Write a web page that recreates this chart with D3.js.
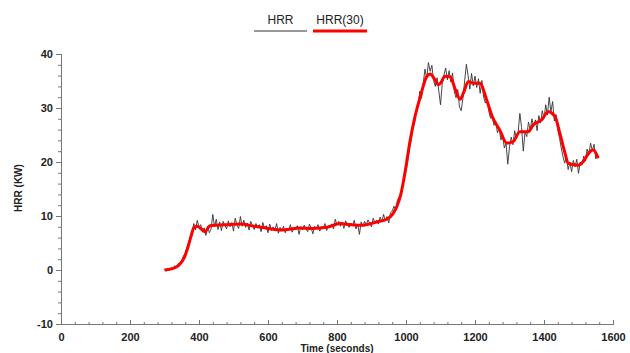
<!DOCTYPE html>
<html>
<head>
<meta charset="utf-8">
<script src="https://cdn.jsdelivr.net/npm/d3@7"></script>
<style>
  body { margin: 0; background: #fff; }
  svg { display: block; font-family: "Liberation Sans", Arial, sans-serif; }
</style>
</head>
<body>
<svg id="chart" width="630" height="353"></svg>
<script>
// Raw HRR samples, 5 s apart starting at 300 s
const hrrStart = 300;
const hrrStep = 5;
const hrrValues = [
  0.1, -0.2, 0.3, 0.0, 0.5, 0.2, 0.8, 0.4, 1.2, 0.9, 1.8, 2.6, 3.1, 4.2, 5.0, 6.3, 7.1,
  8.6, 7.4, 9.2, 7.9, 8.4, 7.0, 7.8, 6.4, 8.1, 6.9, 7.6, 10.3, 8.0, 9.4, 7.5, 8.9, 7.3,
  9.0, 8.2, 7.6, 9.1, 8.0, 8.8, 7.2, 9.6, 8.3, 7.7, 9.9, 8.1, 9.2, 7.9, 8.7, 7.4, 9.0,
  8.2, 7.5, 8.6, 7.9, 8.4, 7.1, 8.8, 7.6, 8.2, 6.9, 8.5, 7.3, 8.0, 7.4, 8.6, 6.8, 7.9,
  7.2, 8.1, 6.9, 7.7, 7.3, 8.4, 7.0, 7.9, 7.5, 8.2, 6.6, 8.0, 7.4, 8.3, 7.6, 7.1, 8.5,
  7.8, 6.7, 8.1, 7.6, 8.4, 7.2, 8.0, 7.7, 8.6, 7.3, 8.2, 7.9, 8.5, 7.6, 9.4, 8.3, 9.0,
  8.1, 8.8, 7.7, 9.1, 8.4, 7.9, 8.7, 8.2, 9.2, 7.6, 8.5, 6.6, 8.9, 8.1, 9.0, 8.4, 9.3,
  8.6, 8.0, 9.6, 8.7, 9.2, 8.5, 9.8, 8.9, 10.3, 9.1, 9.9, 8.7, 10.6, 10.9, 11.8, 11.2,
  12.9, 13.5, 14.2, 15.6, 16.8, 18.4, 20.1, 22.5, 24.0, 26.2, 27.3, 29.5, 30.4, 33.1,
  31.8, 34.6, 37.2, 35.5, 38.4, 36.8, 37.9, 35.1, 34.0, 35.6, 33.2, 30.6, 34.5, 36.1,
  37.4, 35.2, 36.9, 34.8, 36.5, 33.0, 31.9, 33.4, 30.2, 29.5, 31.8, 35.0, 38.1, 36.0,
  33.5, 36.4, 34.1, 35.9, 33.8, 35.4, 32.7, 35.1, 32.0, 30.9, 31.6, 29.4, 28.1, 28.9,
  26.8, 27.5, 25.4, 26.3, 24.1, 25.0, 22.6, 23.4, 19.6, 22.8, 24.6, 23.2, 25.8, 24.3,
  25.5, 29.0, 26.4, 22.0, 25.6, 24.7, 27.4, 25.9, 28.0, 26.5, 27.8, 25.8, 28.6, 27.2,
  29.5, 28.1, 30.6, 28.7, 32.0, 29.3, 31.2, 27.6, 28.8, 25.9, 24.4, 22.6, 21.0, 19.8,
  20.9, 18.6, 19.9, 18.2, 20.3, 19.1, 20.5, 17.9, 20.0, 19.4, 21.1, 20.2, 22.4, 21.3,
  23.5, 22.1, 23.3, 20.6, 21.4
];

// 30-point smoothed HRR
const smoothTimes = [
  300, 320, 340, 355, 365, 375, 385, 395, 405, 417, 432, 450, 480, 519, 560, 600, 640,
  693, 730, 770, 809, 840, 875, 915, 944, 962, 975, 985, 997, 1012, 1026, 1041, 1060,
  1070, 1084, 1093, 1100, 1113, 1128, 1142, 1157, 1166, 1181, 1195, 1214, 1234, 1250,
  1272, 1292, 1311, 1330, 1354, 1369, 1393, 1412, 1432, 1446, 1461, 1470, 1499, 1514,
  1533, 1543, 1557
];
const smoothValues = [
  0.0, 0.2, 0.8, 2.0, 3.6, 5.8, 7.8, 8.1, 7.7, 7.1, 8.2, 8.3, 8.4, 8.5, 8.1, 7.7, 7.4,
  7.8, 7.7, 7.9, 8.6, 8.4, 8.3, 8.9, 9.4, 10.4, 12.0, 14.0, 18.0, 24.0, 28.4, 32.0, 35.8,
  36.3, 35.2, 34.3, 34.6, 35.9, 35.8, 33.6, 31.6, 32.7, 34.9, 34.6, 34.6, 31.5, 28.4,
  25.9, 23.5, 23.8, 25.6, 25.6, 26.9, 27.8, 29.3, 28.4, 25.3, 21.6, 19.8, 19.4, 20.1,
  21.9, 22.2, 20.7
];

const xTicks = [0, 200, 400, 600, 800, 1000, 1200, 1400, 1600];
const yTicks = [-10, 0, 10, 20, 30, 40];

const svg = d3.select('#chart');

const x = d3.scaleLinear().domain([0, 1600]).range([61, 613]);
const y = d3.scaleLinear().domain([-10, 40]).range([324, 54]);

const rawData = hrrValues.map((v, i) => ({ t: hrrStart + i * hrrStep, v }));
const smoothData = smoothTimes.map((t, i) => ({ t, v: smoothValues[i] }));

// Axes (plain hyphen for negatives, like the original)
const plain = d => String(d);
const yAxis = d3.axisLeft(y).tickValues(yTicks).tickSize(5).tickPadding(3).tickFormat(plain);
const yMinor = d3.axisLeft(y).tickValues(d3.range(-10, 41, 2)).tickSize(3).tickFormat('');
const xAxis = d3.axisBottom(x).tickValues(xTicks).tickSize(-4).tickPadding(9).tickFormat(plain);
const xMinor = d3.axisBottom(x).tickValues(d3.range(0, 1601, 40)).tickSize(-2).tickFormat('');

function styleAxis(g) {
  g.select('.domain').attr('stroke', '#777');
  g.selectAll('.tick line').attr('stroke', '#777');
  g.selectAll('.tick text')
    .style('font-size', '11px')
    .style('font-weight', 'bold')
    .attr('fill', '#222');
}

svg.append('g').attr('transform', 'translate(61,0)').call(yMinor).call(styleAxis);
svg.append('g').attr('transform', 'translate(61,0)').call(yAxis).call(styleAxis);
svg.append('g').attr('transform', 'translate(0,324)').call(xMinor).call(styleAxis);
svg.append('g').attr('transform', 'translate(0,324)').call(xAxis).call(styleAxis);

// Axis titles
svg.append('text')
  .attr('transform', 'translate(22,188) rotate(-90)')
  .attr('text-anchor', 'middle')
  .style('font-size', '10px')
  .style('font-weight', 'bold')
  .attr('fill', '#222')
  .text('HRR (KW)');

svg.append('text')
  .attr('x', 337)
  .attr('y', 352)
  .attr('text-anchor', 'middle')
  .style('font-size', '10px')
  .style('font-weight', 'bold')
  .attr('fill', '#222')
  .text('Time (seconds)');

// Series
const line = d3.line().x(d => x(d.t)).y(d => y(d.v));

svg.append('path')
  .datum(rawData)
  .attr('fill', 'none')
  .attr('stroke', '#333')
  .attr('stroke-width', 0.9)
  .attr('d', line);

svg.append('path')
  .datum(smoothData)
  .attr('fill', 'none')
  .attr('stroke', '#ff0000')
  .attr('stroke-width', 3)
  .attr('stroke-linejoin', 'round')
  .attr('d', line.curve(d3.curveMonotoneX));

// Legend
const legendItems = [
  { label: 'HRR', color: '#333', width: 1, x1: 254, x2: 307 },
  { label: 'HRR(30)', color: '#ff0000', width: 3, x1: 313, x2: 367 }
];

const legend = svg.append('g').attr('class', 'legend');
legendItems.forEach(d => {
  legend.append('text')
    .attr('x', (d.x1 + d.x2) / 2)
    .attr('y', 24)
    .attr('text-anchor', 'middle')
    .style('font-size', '12px')
    .attr('fill', '#222')
    .text(d.label);
  legend.append('line')
    .attr('x1', d.x1)
    .attr('x2', d.x2)
    .attr('y1', 31)
    .attr('y2', 31)
    .attr('stroke', d.color)
    .attr('stroke-width', d.width);
});
</script>
</body>
</html>
